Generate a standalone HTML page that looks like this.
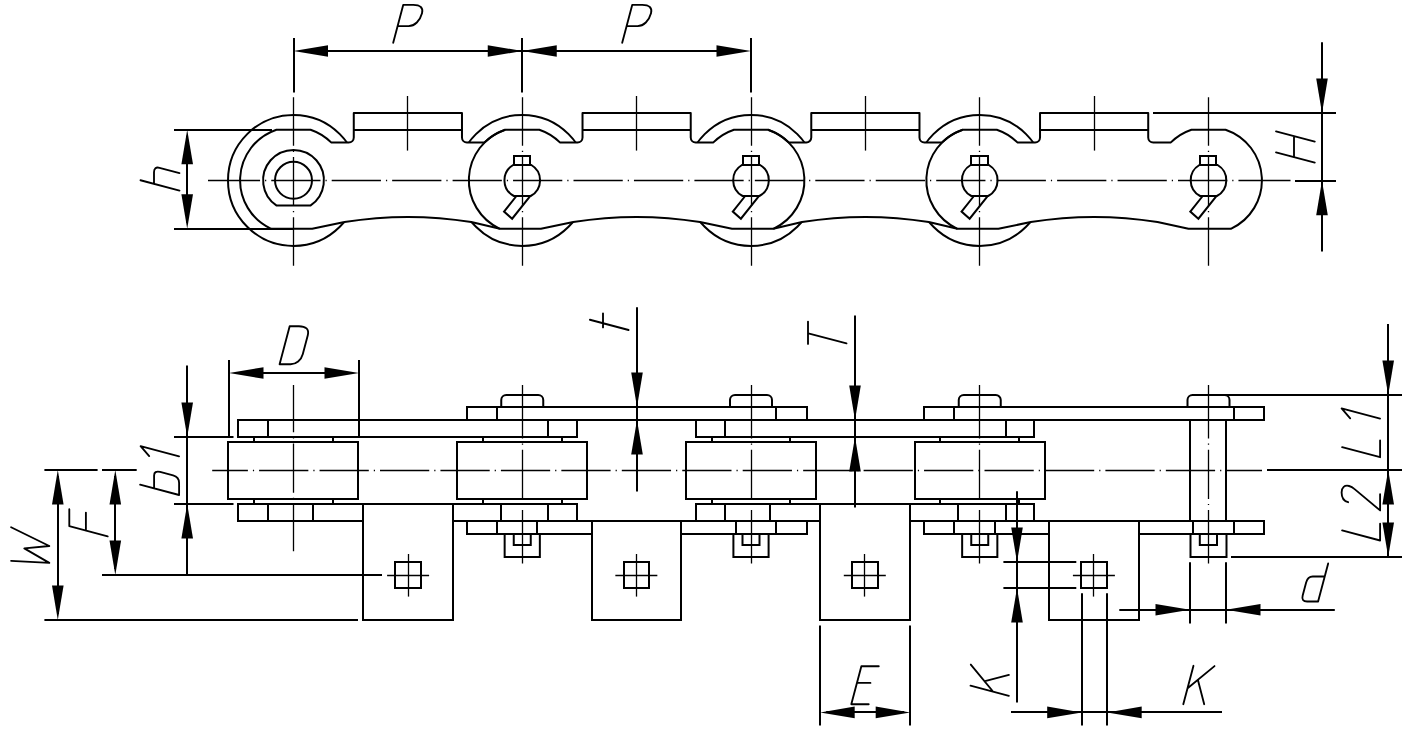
<!DOCTYPE html>
<html><head><meta charset="utf-8"><title>Chain drawing</title>
<style>html,body{margin:0;padding:0;background:#fff;width:1418px;height:742px;overflow:hidden;font-family:"Liberation Sans",sans-serif}svg{display:block}</style>
</head><body>
<svg width="1418" height="742" viewBox="0 0 1418 742" stroke="#000" fill="none"><circle cx="293.5" cy="180.4" r="65.5" stroke-width="2" fill="none"/>
<circle cx="522.25" cy="180.4" r="65.5" stroke-width="2" fill="none"/>
<circle cx="751" cy="180.4" r="65.5" stroke-width="2" fill="none"/>
<circle cx="979.75" cy="180.4" r="65.5" stroke-width="2" fill="none"/>
<path d="M276.44 129.7 L310.56 129.7 A53.4 53.4 0 0 1 331.12 142.4 L348.77 142.4 A5 5 0 0 0 353.77 137.4 L353.77 113 L461.98 113 L461.98 137.4 A5 5 0 0 0 466.98 142.4 L484.63 142.4 A53.4 53.4 0 0 1 505.19 129.7 L539.31 129.7 A53.4 53.4 0 0 1 559.87 142.4 L577.52 142.4 A5 5 0 0 0 582.52 137.4 L582.52 113 L690.73 113 L690.73 137.4 A5 5 0 0 0 695.73 142.4 L713.38 142.4 A53.4 53.4 0 0 1 733.94 129.7 L768.06 129.7 A53.4 53.4 0 0 1 788.62 142.4 L806.27 142.4 A5 5 0 0 0 811.27 137.4 L811.27 113 L919.48 113 L919.48 137.4 A5 5 0 0 0 924.48 142.4 L942.13 142.4 A53.4 53.4 0 0 1 962.69 129.7 L996.81 129.7 A53.4 53.4 0 0 1 1017.37 142.4 L1035.03 142.4 A5 5 0 0 0 1040.03 137.4 L1040.03 113 L1148.22 113 L1148.22 137.4 A5 5 0 0 0 1153.22 142.4 L1170.88 142.4 A53.4 53.4 0 0 1 1191.44 129.7 L1225.56 129.7 A53.4 53.4 0 0 1 1230.85 228.8 L1188.5 228.8 L1157.5 222 Q1094.12 211.8 1030.75 222 L998.45 228.8 L957.4 228.8 L928.75 222 Q865.38 211.8 802 222 L773.35 228.8 L732 228.8 L700 222 Q636.62 211.8 573.25 222 L540.95 228.8 L499.9 228.8 L471.25 222 Q407.88 211.8 344.5 222 L312.2 228.8 L271.15 228.8 A53.4 53.4 0 0 1 276.44 129.7 Z" stroke-width="2" fill="#fff" stroke-linejoin="round"/>
<line x1="353.77" y1="130" x2="461.98" y2="130" stroke-width="2"/>
<line x1="582.52" y1="130" x2="690.73" y2="130" stroke-width="2"/>
<line x1="811.27" y1="130" x2="919.48" y2="130" stroke-width="2"/>
<line x1="1040.03" y1="130" x2="1148.22" y2="130" stroke-width="2"/>
<path d="M505.19 129.7 A53.4 53.4 0 0 0 499.9 228.8" stroke-width="2" fill="none"/>
<path d="M962.69 129.7 A53.4 53.4 0 0 0 957.4 228.8" stroke-width="2" fill="none"/>
<path d="M768.06 129.7 A53.4 53.4 0 0 1 773.35 228.8" stroke-width="2" fill="none"/>
<path d="M276.65 205.6 A30.4 30.4 0 1 1 310.35 205.6 Z" stroke-width="2" fill="none"/>
<circle cx="293.5" cy="180.3" r="18.5" stroke-width="2" fill="none"/>
<path d="M513.15 165 L531.35 165 A17.8 17.8 0 0 1 530.64 196 L513.86 196 A17.8 17.8 0 0 1 513.15 165 Z" stroke-width="2" fill="none"/>
<rect x="514" y="156" width="16" height="9" stroke-width="2" fill="none"/>
<path d="M516.45 196 L504.05 211.6 L512.15 218.7 L529.95 196.3" stroke-width="2" fill="none"/>
<path d="M741.9 165 L760.1 165 A17.8 17.8 0 0 1 759.39 196 L742.61 196 A17.8 17.8 0 0 1 741.9 165 Z" stroke-width="2" fill="none"/>
<rect x="743" y="156" width="16" height="9" stroke-width="2" fill="none"/>
<path d="M745.2 196 L732.8 211.6 L740.9 218.7 L758.7 196.3" stroke-width="2" fill="none"/>
<path d="M970.65 165 L988.85 165 A17.8 17.8 0 0 1 988.14 196 L971.36 196 A17.8 17.8 0 0 1 970.65 165 Z" stroke-width="2" fill="none"/>
<rect x="971" y="156" width="17" height="9" stroke-width="2" fill="none"/>
<path d="M973.95 196 L961.55 211.6 L969.65 218.7 L987.45 196.3" stroke-width="2" fill="none"/>
<path d="M1199.4 165 L1217.6 165 A17.8 17.8 0 0 1 1216.89 196 L1200.11 196 A17.8 17.8 0 0 1 1199.4 165 Z" stroke-width="2" fill="none"/>
<rect x="1200" y="156" width="16" height="9" stroke-width="2" fill="none"/>
<path d="M1202.7 196 L1190.3 211.6 L1198.4 218.7 L1216.2 196.3" stroke-width="2" fill="none"/>
<path d="M208 180.5L260.05 180.5M265.05 180.5L266.25 180.5M271.25 180.5L320.5 180.5M325.5 180.5L326.7 180.5M331.7 180.5L380.95 180.5M385.95 180.5L387.15 180.5M392.15 180.5L441.4 180.5M446.4 180.5L447.6 180.5M452.6 180.5L501.85 180.5M506.85 180.5L508.05 180.5M513.05 180.5L562.3 180.5M567.3 180.5L568.5 180.5M573.5 180.5L622.75 180.5M627.75 180.5L628.95 180.5M633.95 180.5L683.2 180.5M688.2 180.5L689.4 180.5M694.4 180.5L743.65 180.5M748.65 180.5L749.85 180.5M754.85 180.5L804.1 180.5M809.1 180.5L810.3 180.5M815.3 180.5L864.55 180.5M869.55 180.5L870.75 180.5M875.75 180.5L925 180.5M930 180.5L931.2 180.5M936.2 180.5L985.45 180.5M990.45 180.5L991.65 180.5M996.65 180.5L1045.9 180.5M1050.9 180.5L1052.1 180.5M1057.1 180.5L1106.35 180.5M1111.35 180.5L1112.55 180.5M1117.55 180.5L1166.8 180.5M1171.8 180.5L1173 180.5M1178 180.5L1227.25 180.5M1232.25 180.5L1233.45 180.5M1238.45 180.5L1290.5 180.5" stroke-width="1.3" fill="none"/>
<path d="M293.5 97.2L293.5 145.68M293.5 150.68L293.5 151.88M293.5 156.88L293.5 206.12M293.5 211.12L293.5 212.33M293.5 217.33L293.5 265.8" stroke-width="1.3" fill="none"/>
<path d="M522.5 97.2L522.5 145.68M522.5 150.68L522.5 151.88M522.5 156.88L522.5 206.12M522.5 211.12L522.5 212.33M522.5 217.33L522.5 265.8" stroke-width="1.3" fill="none"/>
<path d="M751.5 97.2L751.5 145.68M751.5 150.68L751.5 151.88M751.5 156.88L751.5 206.12M751.5 211.12L751.5 212.33M751.5 217.33L751.5 265.8" stroke-width="1.3" fill="none"/>
<path d="M979.5 97.2L979.5 145.68M979.5 150.68L979.5 151.88M979.5 156.88L979.5 206.12M979.5 211.12L979.5 212.33M979.5 217.33L979.5 265.8" stroke-width="1.3" fill="none"/>
<path d="M1208.5 97.2L1208.5 145.68M1208.5 150.68L1208.5 151.88M1208.5 156.88L1208.5 206.12M1208.5 211.12L1208.5 212.33M1208.5 217.33L1208.5 265.8" stroke-width="1.3" fill="none"/>
<line x1="407.5" y1="96" x2="407.5" y2="150.6" stroke-width="1.3"/>
<line x1="636.5" y1="96" x2="636.5" y2="150.6" stroke-width="1.3"/>
<line x1="865.5" y1="96" x2="865.5" y2="150.6" stroke-width="1.3"/>
<line x1="1094.5" y1="96" x2="1094.5" y2="150.6" stroke-width="1.3"/>
<line x1="294" y1="38" x2="294" y2="92.5" stroke-width="2"/>
<line x1="522" y1="38" x2="522" y2="92.5" stroke-width="2"/>
<line x1="751" y1="38" x2="751" y2="92.5" stroke-width="2"/>
<line x1="299.5" y1="51" x2="745" y2="51" stroke-width="2"/>
<path d="M293.5 51 L328 45.2 L328 56.8 Z" fill="#000" stroke="none"/>
<path d="M522.25 51 L487.75 56.8 L487.75 45.2 Z" fill="#000" stroke="none"/>
<path d="M522.25 51 L556.75 45.2 L556.75 56.8 Z" fill="#000" stroke="none"/>
<path d="M751 51 L716.5 56.8 L716.5 45.2 Z" fill="#000" stroke="none"/>
<path d="M 393.2 42.8 L 403.27 4.8 L 413.27 4.8 C 420.27 4.8 423.47 7.8 422.02 13.3 C 420.03 20.8 414.63 26.1 408.63 26.1 L 397.63 26.1" stroke-width="1.85" fill="none" stroke-linecap="round" stroke-linejoin="round"/>
<path d="M 622.2 42.8 L 632.27 4.8 L 642.27 4.8 C 649.27 4.8 652.48 7.8 651.02 13.3 C 649.03 20.8 643.63 26.1 637.63 26.1 L 626.63 26.1" stroke-width="1.85" fill="none" stroke-linecap="round" stroke-linejoin="round"/>
<line x1="174" y1="130" x2="272" y2="130" stroke-width="2"/>
<line x1="174" y1="229" x2="293.5" y2="229" stroke-width="2"/>
<line x1="187" y1="135.7" x2="187" y2="222.8" stroke-width="2"/>
<path d="M187.2 129.7 L193 164.2 L181.4 164.2 Z" fill="#000" stroke="none"/>
<path d="M187.2 228.8 L181.4 194.3 L193 194.3 Z" fill="#000" stroke="none"/>
<path d="M 179.5 190.6 L 140.5 180.26 M 179.5 173.1 L 159.5 167.8 C 156 166.87 154 168.34 154 172.34 L 154 183.84" stroke-width="1.85" fill="none" stroke-linecap="round" stroke-linejoin="round"/>
<line x1="1153" y1="113" x2="1336" y2="113" stroke-width="2"/>
<line x1="1295" y1="181" x2="1336" y2="181" stroke-width="2"/>
<line x1="1322" y1="42.3" x2="1322" y2="251.6" stroke-width="2"/>
<path d="M1322 113 L1316.2 78.5 L1327.8 78.5 Z" fill="#000" stroke="none"/>
<path d="M1322 180.7 L1327.8 215.2 L1316.2 215.2 Z" fill="#000" stroke="none"/>
<path d="M 1314.8 162.6 L 1276 152.32 M 1314.8 141.6 L 1276 131.32 M 1294 157.09 L 1294 136.09" stroke-width="1.85" fill="none" stroke-linecap="round" stroke-linejoin="round"/>
<rect x="238" y="420" width="339" height="17" stroke-width="2" fill="none"/>
<line x1="268" y1="420" x2="268" y2="437" stroke-width="2"/>
<line x1="548" y1="420" x2="548" y2="437" stroke-width="2"/>
<rect x="238" y="504" width="339" height="17" stroke-width="2" fill="none"/>
<line x1="268" y1="504" x2="268" y2="521" stroke-width="2"/>
<line x1="313" y1="504" x2="313" y2="521" stroke-width="2"/>
<line x1="501" y1="504" x2="501" y2="521" stroke-width="2"/>
<line x1="548" y1="504" x2="548" y2="521" stroke-width="2"/>
<rect x="696" y="420" width="338" height="17" stroke-width="2" fill="none"/>
<line x1="725" y1="420" x2="725" y2="437" stroke-width="2"/>
<line x1="1006" y1="420" x2="1006" y2="437" stroke-width="2"/>
<rect x="696" y="504" width="338" height="17" stroke-width="2" fill="none"/>
<line x1="725" y1="504" x2="725" y2="521" stroke-width="2"/>
<line x1="770" y1="504" x2="770" y2="521" stroke-width="2"/>
<line x1="958" y1="504" x2="958" y2="521" stroke-width="2"/>
<line x1="1006" y1="504" x2="1006" y2="521" stroke-width="2"/>
<rect x="467" y="407" width="340" height="13" stroke-width="2" fill="none"/>
<line x1="497" y1="407" x2="497" y2="420" stroke-width="2"/>
<line x1="776" y1="407" x2="776" y2="420" stroke-width="2"/>
<rect x="467" y="521" width="340" height="13" stroke-width="2" fill="none"/>
<line x1="497" y1="521" x2="497" y2="534" stroke-width="2"/>
<line x1="537" y1="521" x2="537" y2="534" stroke-width="2"/>
<line x1="736" y1="521" x2="736" y2="534" stroke-width="2"/>
<line x1="776" y1="521" x2="776" y2="534" stroke-width="2"/>
<rect x="924" y="407" width="340" height="13" stroke-width="2" fill="none"/>
<line x1="954" y1="407" x2="954" y2="420" stroke-width="2"/>
<line x1="1234" y1="407" x2="1234" y2="420" stroke-width="2"/>
<rect x="924" y="521" width="340" height="13" stroke-width="2" fill="none"/>
<line x1="954" y1="521" x2="954" y2="534" stroke-width="2"/>
<line x1="995" y1="521" x2="995" y2="534" stroke-width="2"/>
<line x1="1193" y1="521" x2="1193" y2="534" stroke-width="2"/>
<line x1="1234" y1="521" x2="1234" y2="534" stroke-width="2"/>
<rect x="228" y="442" width="130" height="57" stroke-width="2" fill="none"/>
<line x1="254" y1="437" x2="254" y2="442" stroke-width="2"/>
<line x1="254" y1="499" x2="254" y2="504" stroke-width="2"/>
<line x1="333" y1="437" x2="333" y2="442" stroke-width="2"/>
<line x1="333" y1="499" x2="333" y2="504" stroke-width="2"/>
<rect x="457" y="442" width="130" height="57" stroke-width="2" fill="none"/>
<line x1="483" y1="437" x2="483" y2="442" stroke-width="2"/>
<line x1="483" y1="499" x2="483" y2="504" stroke-width="2"/>
<line x1="562" y1="437" x2="562" y2="442" stroke-width="2"/>
<line x1="562" y1="499" x2="562" y2="504" stroke-width="2"/>
<rect x="686" y="442" width="130" height="57" stroke-width="2" fill="none"/>
<line x1="712" y1="437" x2="712" y2="442" stroke-width="2"/>
<line x1="712" y1="499" x2="712" y2="504" stroke-width="2"/>
<line x1="790" y1="437" x2="790" y2="442" stroke-width="2"/>
<line x1="790" y1="499" x2="790" y2="504" stroke-width="2"/>
<rect x="915" y="442" width="130" height="57" stroke-width="2" fill="none"/>
<line x1="940" y1="437" x2="940" y2="442" stroke-width="2"/>
<line x1="940" y1="499" x2="940" y2="504" stroke-width="2"/>
<line x1="1019" y1="437" x2="1019" y2="442" stroke-width="2"/>
<line x1="1019" y1="499" x2="1019" y2="504" stroke-width="2"/>
<path d="M501.25 407 L501.25 400 A5 5 0 0 1 506.25 395 L538.25 395 A5 5 0 0 1 543.25 400 L543.25 407" stroke-width="2" fill="none"/>
<path d="M730 407 L730 400 A5 5 0 0 1 735 395 L767 395 A5 5 0 0 1 772 400 L772 407" stroke-width="2" fill="none"/>
<path d="M958.75 407 L958.75 400 A5 5 0 0 1 963.75 395 L995.75 395 A5 5 0 0 1 1000.75 400 L1000.75 407" stroke-width="2" fill="none"/>
<path d="M1187.5 407 L1187.5 400 A5 5 0 0 1 1192.5 395 L1224.5 395 A5 5 0 0 1 1229.5 400 L1229.5 407" stroke-width="2" fill="none"/>
<path d="M504.65 534 L504.65 557 L539.85 557 L539.85 534" stroke-width="2" fill="none"/>
<path d="M513.75 534 L513.75 545 L530.75 545 L530.75 534" stroke-width="2" fill="none"/>
<path d="M733.4 534 L733.4 557 L768.6 557 L768.6 534" stroke-width="2" fill="none"/>
<path d="M742.5 534 L742.5 545 L759.5 545 L759.5 534" stroke-width="2" fill="none"/>
<path d="M962.15 534 L962.15 557 L997.35 557 L997.35 534" stroke-width="2" fill="none"/>
<path d="M971.25 534 L971.25 545 L988.25 545 L988.25 534" stroke-width="2" fill="none"/>
<line x1="1190" y1="420" x2="1190" y2="521" stroke-width="2"/>
<line x1="1226" y1="420" x2="1226" y2="521" stroke-width="2"/>
<path d="M1190.5 534 L1190.5 557 L1226.5 557 L1226.5 534" stroke-width="2" fill="none"/>
<path d="M1199.8 534 L1199.8 545 L1217 545 L1217 534" stroke-width="2" fill="none"/>
<rect x="363" y="504" width="90" height="116" stroke-width="2" fill="#fff"/>
<rect x="395" y="562" width="26" height="26" stroke-width="2" fill="none"/>
<line x1="387.1" y1="575.5" x2="429.1" y2="575.5" stroke-width="1.3"/>
<line x1="408.5" y1="554" x2="408.5" y2="596.6" stroke-width="1.3"/>
<rect x="592" y="521" width="89" height="99" stroke-width="2" fill="#fff"/>
<rect x="624" y="562" width="25" height="26" stroke-width="2" fill="none"/>
<line x1="615.35" y1="575.5" x2="657.35" y2="575.5" stroke-width="1.3"/>
<line x1="636.5" y1="554" x2="636.5" y2="596.6" stroke-width="1.3"/>
<rect x="820" y="504" width="90" height="116" stroke-width="2" fill="#fff"/>
<rect x="852" y="562" width="26" height="26" stroke-width="2" fill="none"/>
<line x1="843.8" y1="575.5" x2="885.8" y2="575.5" stroke-width="1.3"/>
<line x1="864.5" y1="554" x2="864.5" y2="596.6" stroke-width="1.3"/>
<rect x="1049" y="521" width="90" height="99" stroke-width="2" fill="#fff"/>
<rect x="1081" y="562" width="26" height="26" stroke-width="2" fill="none"/>
<line x1="1072.9" y1="575.5" x2="1114.9" y2="575.5" stroke-width="1.3"/>
<line x1="1093.5" y1="554" x2="1093.5" y2="596.6" stroke-width="1.3"/>
<path d="M212.2 470.5L247.9 470.5M252.9 470.5L254.1 470.5M259.1 470.5L308.35 470.5M313.35 470.5L314.55 470.5M319.55 470.5L368.8 470.5M373.8 470.5L375 470.5M380 470.5L429.25 470.5M434.25 470.5L435.45 470.5M440.45 470.5L489.7 470.5M494.7 470.5L495.9 470.5M500.9 470.5L550.15 470.5M555.15 470.5L556.35 470.5M561.35 470.5L610.6 470.5M615.6 470.5L616.8 470.5M621.8 470.5L671.05 470.5M676.05 470.5L677.25 470.5M682.25 470.5L731.5 470.5M736.5 470.5L737.7 470.5M742.7 470.5L791.95 470.5M796.95 470.5L798.15 470.5M803.15 470.5L852.4 470.5M857.4 470.5L858.6 470.5M863.6 470.5L912.85 470.5M917.85 470.5L919.05 470.5M924.05 470.5L973.3 470.5M978.3 470.5L979.5 470.5M984.5 470.5L1033.75 470.5M1038.75 470.5L1039.95 470.5M1044.95 470.5L1094.2 470.5M1099.2 470.5L1100.4 470.5M1105.4 470.5L1154.65 470.5M1159.65 470.5L1160.85 470.5M1165.85 470.5L1215.1 470.5M1220.1 470.5L1221.3 470.5M1226.3 470.5L1262 470.5" stroke-width="1.3" fill="none"/>
<path d="M293.5 385L293.5 432.32M293.5 437.32L293.5 438.52M293.5 443.52L293.5 492.77M293.5 497.77L293.5 498.97M293.5 503.97L293.5 551.3" stroke-width="1.3" fill="none"/>
<path d="M522.5 385L522.5 438.48M522.5 443.48L522.5 444.68M522.5 449.68L522.5 498.93M522.5 503.93L522.5 505.12M522.5 510.12L522.5 563.6" stroke-width="1.3" fill="none"/>
<path d="M751.5 385L751.5 438.48M751.5 443.48L751.5 444.68M751.5 449.68L751.5 498.93M751.5 503.93L751.5 505.12M751.5 510.12L751.5 563.6" stroke-width="1.3" fill="none"/>
<path d="M979.5 385L979.5 438.48M979.5 443.48L979.5 444.68M979.5 449.68L979.5 498.93M979.5 503.93L979.5 505.12M979.5 510.12L979.5 563.6" stroke-width="1.3" fill="none"/>
<path d="M1208.5 385L1208.5 438.48M1208.5 443.48L1208.5 444.68M1208.5 449.68L1208.5 498.93M1208.5 503.93L1208.5 505.12M1208.5 510.12L1208.5 563.6" stroke-width="1.3" fill="none"/>
<line x1="229" y1="360" x2="229" y2="437" stroke-width="2"/>
<line x1="359" y1="360" x2="359" y2="437" stroke-width="2"/>
<line x1="235" y1="373" x2="353" y2="373" stroke-width="2"/>
<path d="M229 373 L263.5 367.2 L263.5 378.8 Z" fill="#000" stroke="none"/>
<path d="M359 373 L324.5 378.8 L324.5 367.2 Z" fill="#000" stroke="none"/>
<path d="M 279.6 364.2 L 289.67 326.2 L 298.97 326.2 C 305.67 326.2 309.38 329.2 307.79 335.2 L 302.75 354.2 C 301.16 360.2 296.1 364.2 290.6 364.2 Z" stroke-width="1.85" fill="none" stroke-linecap="round" stroke-linejoin="round"/>
<line x1="174" y1="437" x2="233.5" y2="437" stroke-width="2"/>
<line x1="174" y1="504" x2="233.5" y2="504" stroke-width="2"/>
<line x1="187" y1="365.4" x2="187" y2="575" stroke-width="2"/>
<path d="M187.2 437 L181.4 402.5 L193 402.5 Z" fill="#000" stroke="none"/>
<path d="M187.2 504 L193 538.5 L181.4 538.5 Z" fill="#000" stroke="none"/>
<path d="M 179.1 495 L 140.1 484.67 M 154.1 488.38 L 154.1 475.38 C 154.1 472.38 156.1 470.9 160.1 471.96 L 173.1 475.41 C 177.1 476.47 179.1 479 179.1 483 L 179.1 495" stroke-width="1.85" fill="none" stroke-linecap="round" stroke-linejoin="round"/>
<path d="M 149.2 456.08 L 140.6 446.1 L 179.1 456.3" stroke-width="1.85" fill="none" stroke-linecap="round" stroke-linejoin="round"/>
<line x1="102" y1="470" x2="136.7" y2="470" stroke-width="2"/>
<line x1="102" y1="575" x2="382" y2="575" stroke-width="2"/>
<line x1="115" y1="476" x2="115" y2="569" stroke-width="2"/>
<path d="M115.3 470 L121.1 504.5 L109.5 504.5 Z" fill="#000" stroke="none"/>
<path d="M115.3 575 L109.5 540.5 L121.1 540.5 Z" fill="#000" stroke="none"/>
<path d="M 107.7 536.4 L 69.3 526.22 L 69.3 509.22 M 85.9 530.62 L 85.9 512.62" stroke-width="1.85" fill="none" stroke-linecap="round" stroke-linejoin="round"/>
<line x1="44.4" y1="470" x2="97.6" y2="470" stroke-width="2"/>
<line x1="44.4" y1="620" x2="358" y2="620" stroke-width="2"/>
<line x1="58" y1="476" x2="58" y2="614" stroke-width="2"/>
<path d="M57.8 470 L63.6 504.5 L52 504.5 Z" fill="#000" stroke="none"/>
<path d="M57.8 620 L52 585.5 L63.6 585.5 Z" fill="#000" stroke="none"/>
<path d="M 11.1 560.88 L 49.3 562.9 L 24.3 548.38 L 49.3 546 L 11.1 527.28" stroke-width="1.85" fill="none" stroke-linecap="round" stroke-linejoin="round"/>
<line x1="637" y1="307.2" x2="637" y2="491.5" stroke-width="2"/>
<path d="M637 407 L631.2 372.5 L642.8 372.5 Z" fill="#000" stroke="none"/>
<path d="M637 420 L642.8 454.5 L631.2 454.5 Z" fill="#000" stroke="none"/>
<path d="M 628.6 330 L 589.9 319.74 M 603 327.42 L 603 313.32" stroke-width="1.85" fill="none" stroke-linecap="round" stroke-linejoin="round"/>
<line x1="855" y1="315.4" x2="855" y2="507.4" stroke-width="2"/>
<path d="M855 420 L849.2 385.5 L860.8 385.5 Z" fill="#000" stroke="none"/>
<path d="M855 437 L860.8 471.5 L849.2 471.5 Z" fill="#000" stroke="none"/>
<path d="M 846.5 343.4 L 808.3 333.28 M 808 343.9 L 808 321.6" stroke-width="1.85" fill="none" stroke-linecap="round" stroke-linejoin="round"/>
<line x1="1215" y1="395" x2="1402" y2="395" stroke-width="2"/>
<line x1="1267" y1="470" x2="1402" y2="470" stroke-width="2"/>
<line x1="1231" y1="557" x2="1402" y2="557" stroke-width="2"/>
<line x1="1388" y1="324" x2="1388" y2="557" stroke-width="2"/>
<path d="M1388.2 395 L1382.4 360.5 L1394 360.5 Z" fill="#000" stroke="none"/>
<path d="M1388.2 470 L1394 504.5 L1382.4 504.5 Z" fill="#000" stroke="none"/>
<path d="M1388.2 557 L1382.4 522.5 L1394 522.5 Z" fill="#000" stroke="none"/>
<path d="M 1342.1 447.13 L 1380.1 457.2 L 1380.1 440.4" stroke-width="1.85" fill="none" stroke-linecap="round" stroke-linejoin="round"/>
<path d="M 1350.2 418.38 L 1341.6 408.4 L 1380.1 418.6" stroke-width="1.85" fill="none" stroke-linecap="round" stroke-linejoin="round"/>
<path d="M 1342.1 530.43 L 1380.1 540.5 L 1380.1 523.7" stroke-width="1.85" fill="none" stroke-linecap="round" stroke-linejoin="round"/>
<path d="M 1348.1 502.22 C 1344.1 501.16 1341.6 497.5 1341.6 492.5 C 1341.6 487.5 1344.6 484.79 1349.1 485.99 C 1351.6 486.65 1353.1 487.75 1354.3 488.86 L 1380.1 510.4 L 1380.1 494.2" stroke-width="1.85" fill="none" stroke-linecap="round" stroke-linejoin="round"/>
<line x1="1190" y1="562.2" x2="1190" y2="623.6" stroke-width="2"/>
<line x1="1226" y1="562.2" x2="1226" y2="623.6" stroke-width="2"/>
<line x1="1119.3" y1="610" x2="1334.8" y2="610" stroke-width="2"/>
<path d="M1190 609.7 L1155.5 615.5 L1155.5 603.9 Z" fill="#000" stroke="none"/>
<path d="M1226 609.7 L1260.5 603.9 L1260.5 615.5 Z" fill="#000" stroke="none"/>
<path d="M 1318.1 601.5 L 1328.17 563.5 M 1324.72 576.5 L 1312.72 576.5 C 1309.72 576.5 1307.19 578.5 1306.13 582.5 L 1302.69 595.5 C 1301.63 599.5 1303.1 601.5 1307.1 601.5 L 1318.1 601.5" stroke-width="1.85" fill="none" stroke-linecap="round" stroke-linejoin="round"/>
<line x1="820" y1="625.5" x2="820" y2="725.4" stroke-width="2"/>
<line x1="910" y1="625.5" x2="910" y2="725.4" stroke-width="2"/>
<line x1="826.2" y1="712" x2="904.2" y2="712" stroke-width="2"/>
<path d="M820.2 712.4 L854.7 706.6 L854.7 718.2 Z" fill="#000" stroke="none"/>
<path d="M910.2 712.4 L875.7 718.2 L875.7 706.6 Z" fill="#000" stroke="none"/>
<path d="M 878.77 666.2 L 861.37 666.2 L 851.3 704.2 L 868.7 704.2 M 856.94 682.9 L 870.44 682.9" stroke-width="1.85" fill="none" stroke-linecap="round" stroke-linejoin="round"/>
<line x1="1003.4" y1="562" x2="1076.3" y2="562" stroke-width="2"/>
<line x1="1003.4" y1="588" x2="1076.3" y2="588" stroke-width="2"/>
<line x1="1017" y1="491.2" x2="1017" y2="702.5" stroke-width="2"/>
<path d="M1017 562 L1011.2 527.5 L1022.8 527.5 Z" fill="#000" stroke="none"/>
<path d="M1017 588 L1022.8 622.5 L1011.2 622.5 Z" fill="#000" stroke="none"/>
<path d="M 1008.9 695.8 L 970.5 685.62 M 993 691.49 L 970.8 664.6 M 985 681.12 L 1008.9 674.9" stroke-width="1.85" fill="none" stroke-linecap="round" stroke-linejoin="round"/>
<line x1="1082" y1="593.3" x2="1082" y2="725.4" stroke-width="2"/>
<line x1="1107" y1="593.3" x2="1107" y2="725.4" stroke-width="2"/>
<line x1="1011" y1="712" x2="1222" y2="712" stroke-width="2"/>
<path d="M1081.7 712.4 L1047.2 718.2 L1047.2 706.6 Z" fill="#000" stroke="none"/>
<path d="M1107.2 712.4 L1141.7 706.6 L1141.7 718.2 Z" fill="#000" stroke="none"/>
<path d="M 1183.3 704.2 L 1193.48 665.8 M 1187.61 688.3 L 1214.5 666.1 M 1197.98 680.3 L 1204.2 704.2" stroke-width="1.85" fill="none" stroke-linecap="round" stroke-linejoin="round"/></svg>
</body></html>
